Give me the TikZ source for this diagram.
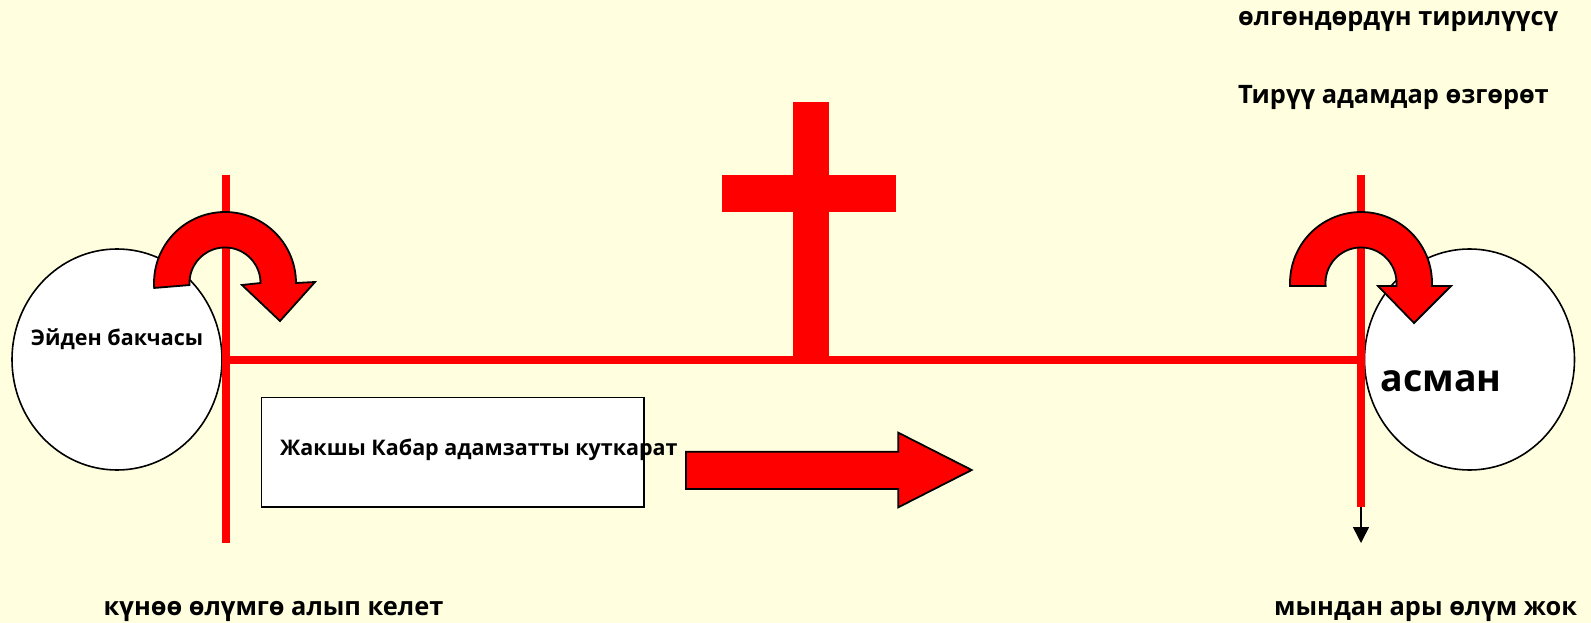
\documentclass[tikz,border=0pt]{standalone}
\usepackage{fontspec}
\setmainfont{Open Sans}
\usetikzlibrary{arrows.meta,shapes.geometric}
\definecolor{fondo}{RGB}{255,255,224}
\begin{document}
\begin{tikzpicture}[x=1pt,y=-1pt,
    linea/.style={red,line width=8pt},
    circulo/.style={ellipse,draw=black,line width=1.6pt,fill=white,minimum width=210pt,minimum height=221pt},
    flecha/.style={draw=black,line width=1.8pt,fill=red,line join=miter},
    texto/.style={font=\fontsize{21.5}{26}\selectfont\bfseries,inner sep=0pt},
    textog/.style={font=\fontsize{25.4}{30}\selectfont\bfseries,inner sep=0pt,anchor=west}]
    % Fondo
    \fill[fondo] (0,0) rectangle (1591,623);
    \useasboundingbox (0,0) rectangle (1591,623);

    % Circulos
    \node[circulo] (eden) at (117,359.5) {};
    \node[circulo] (cielo) at (1469.5,359.5) {};

    % Lineas rojas
    \coordinate (izqsup) at (225.5,175);
    \coordinate (izqinf) at (225.5,543);
    \coordinate (izqmed) at (225.5,359.5);
    \coordinate (dersup) at (1361,175);
    \coordinate (dermed) at (1361,359.5);
    \coordinate (derinf) at (1361,507);
    \coordinate (derfin) at (1361,543);
    \draw[linea] (izqsup) -- (izqinf);
    \draw[linea] (dersup) -- (derinf);
    \draw[linea] (izqmed) -- (dermed);
    \draw[line width=1.6pt,-{Triangle[width=16pt,length=16pt]}] (derinf) -- (derfin);

    % Cruz
    \fill[red] (793,102) rectangle (829,360);
    \fill[red] (722,175) rectangle (896,212);

    % Caja
    \node[draw,line width=1.6pt,fill=white,minimum width=382.5pt,minimum height=109.5pt,anchor=north west] (caja) at (260.8,396.7) {};
    \node[texto,anchor=west] (kabar) at (280,449.5) {Жакшы Кабар адамзатты куткарат};

    % Flecha recta
    \filldraw[flecha] (686,451.7) -- (898.3,451.7) -- (898.3,432.7) -- (971.7,470) -- (898.3,507.3) -- (898.3,489) -- (686,489) -- cycle;

    % Flechas curvas
    \filldraw[flecha] plot[domain=176:360,samples=60] ({225+71*cos(\x)},{283+71*sin(\x)})
        -- (315,282) -- (280,321) -- (242,285)
        -- plot[domain=360:176.7,samples=60] ({225+35.5*cos(\x)},{283+35.5*sin(\x)}) -- cycle;
    \filldraw[flecha] plot[domain=177.6:362.4,samples=60] ({1361+71*cos(\x)},{283+71*sin(\x)})
        -- (1451,286) -- (1414,323) -- (1378,286)
        -- plot[domain=364.8:175.2,samples=60] ({1361+35.5*cos(\x)},{283+35.5*sin(\x)}) -- cycle;

    % Textos
    \node[texto] (edentxt) at (117,339) {Эйден бакчасы};
    \node[font=\fontsize{37.5}{44}\selectfont\bfseries,inner sep=0pt] (cielotxt) at (1441,381.5) {асман};
    \node[textog] (resurreccion) at (1238,21) {өлгөндөрдүн тирилүүсү};
    \node[textog] (cambio) at (1238,97.5) {Тирүү адамдар өзгөрөт};
    \node[textog] (pecado) at (103.5,611) {күнөө өлүмгө алып келет};
    \node[textog] (nomuerte) at (1274,611) {мындан ары өлүм жок};
\end{tikzpicture}
\end{document}
